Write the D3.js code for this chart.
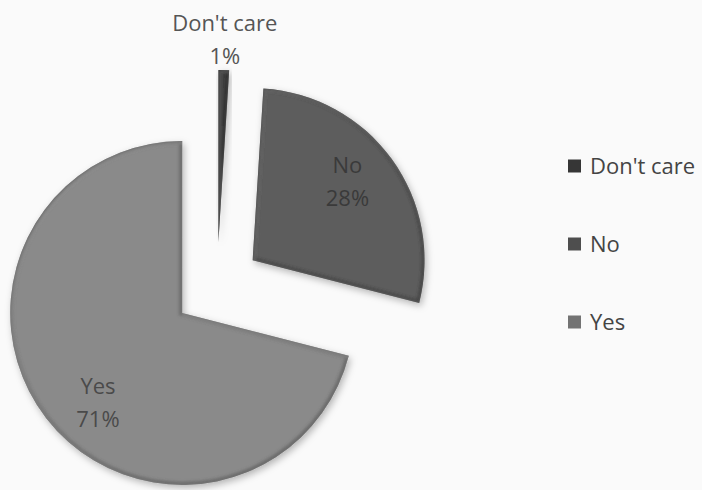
<!DOCTYPE html>
<html>
<head>
<meta charset="utf-8">
<script src="https://cdn.jsdelivr.net/npm/d3@7/dist/d3.min.js"></script>
<style>
  html, body { margin: 0; padding: 0; background: #fafafa; }
  svg { display: block; }
  text { font-family: "Open Sans", "Noto Sans", sans-serif; }
</style>
</head>
<body>
<svg id="chart" width="702" height="490"></svg>
<script>
// Survey answers, in drawing order (clockwise from 12 o'clock)
const categories = ["Don't care", "No", "Yes"];
const values = [1, 28, 71];

const width = 702, height = 490;
const cx = 217, cy = 286;       // pie centre before explosion
const radius = 172;
const explode = 44;             // every slice is pulled out by this amount
const fontSize = 22;

const svg = d3.select("#chart");

svg.append("rect").attr("width", width).attr("height", height).attr("fill", "#fafafa");

const fill = d3.scaleOrdinal().domain(categories).range(["#404040", "#5d5d5d", "#8a8a8a"]);
const rim = d3.scaleOrdinal().domain(categories).range(["#1e1e1e", "#2e2e2e", "#4a4a4a"]);
const labelInk = d3.scaleOrdinal().domain(categories).range(["#555555", "#3a3a3a", "#4a4a4a"]);

const defs = svg.append("defs");
const shadow = defs.append("filter").attr("id", "shadow")
  .attr("x", "-20%").attr("y", "-20%").attr("width", "140%").attr("height", "140%");
shadow.append("feDropShadow").attr("dx", 2).attr("dy", 3).attr("stdDeviation", 3.5)
  .attr("flood-color", "#000").attr("flood-opacity", 0.28);
const soft = defs.append("filter").attr("id", "soft");
soft.append("feGaussianBlur").attr("stdDeviation", 1.8);

const total = d3.sum(values);
const data = categories.map((c, i) => ({ category: c, value: values[i] }));
const pie = d3.pie().sort(null).value(d => d.value).startAngle(0).endAngle(2 * Math.PI);
const arcs = pie(data);
const arc = d3.arc().innerRadius(0).outerRadius(radius);
const pct = d3.format(".0%");

const g = svg.append("g").attr("transform", `translate(${cx},${cy})`);

const slices = g.selectAll("g.slice").data(arcs).join("g")
  .attr("class", "slice")
  .attr("transform", d => {
    const mid = (d.startAngle + d.endAngle) / 2;
    return `translate(${explode * Math.sin(mid)},${-explode * Math.cos(mid)})`;
  });

slices.each(function (d, i) {
  const s = d3.select(this);
  const path = arc(d);
  defs.append("clipPath").attr("id", "clip" + i).append("path").attr("d", path);
  s.append("path").attr("d", path).attr("fill", fill(d.data.category)).attr("filter", "url(#shadow)");
  // soft bevelled rim kept inside the slice
  s.append("g").attr("clip-path", `url(#clip${i})`)
    .append("path").attr("d", path)
    .attr("fill", "none")
    .attr("stroke", rim(d.data.category))
    .attr("stroke-width", 6)
    .attr("stroke-opacity", 0.55)
    .attr("filter", "url(#soft)");
  s.append("g").attr("clip-path", `url(#clip${i})`)
    .append("path").attr("d", path)
    .attr("fill", "none")
    .attr("stroke", "#ffffff")
    .attr("stroke-width", 3)
    .attr("stroke-opacity", 0.18)
    .attr("transform", "translate(1.5,1.5)")
    .attr("filter", "url(#soft)");
});

// data labels: small slices get their label outside the rim,
// larger ones sit a little before the middle of their arc
const lineGap = 33;
slices.each(function (d) {
  const s = d3.select(this);
  const span = d.endAngle - d.startAngle;
  const outside = span < 0.3;
  const a = outside ? d.startAngle + span / 2 : d.startAngle + span * 0.465;
  const r = outside ? radius + 31 : 123;
  const x = r * Math.sin(a), y = -r * Math.cos(a);
  const t = s.append("text")
    .attr("text-anchor", "middle")
    .attr("fill", labelInk(d.data.category))
    .attr("font-size", fontSize);
  t.append("tspan").attr("x", x).attr("y", y - lineGap / 2 + 8).text(d.data.category);
  t.append("tspan").attr("x", x).attr("y", y + lineGap / 2 + 8).text(pct(d.data.value / total));
});

// legend
const ly = d3.scalePoint().domain(categories).range([166, 322]);
const legend = svg.append("g").selectAll("g").data(categories).join("g")
  .attr("transform", d => `translate(568,${ly(d)})`);
legend.append("rect").attr("x", 0).attr("y", -6.5).attr("width", 13).attr("height", 13)
  .attr("fill", d => d3.color(fill(d)).darker(0.5));
legend.append("text").attr("x", 22).attr("y", 8)
  .attr("font-size", fontSize).attr("fill", "#444")
  .text(d => d);
</script>
</body>
</html>
